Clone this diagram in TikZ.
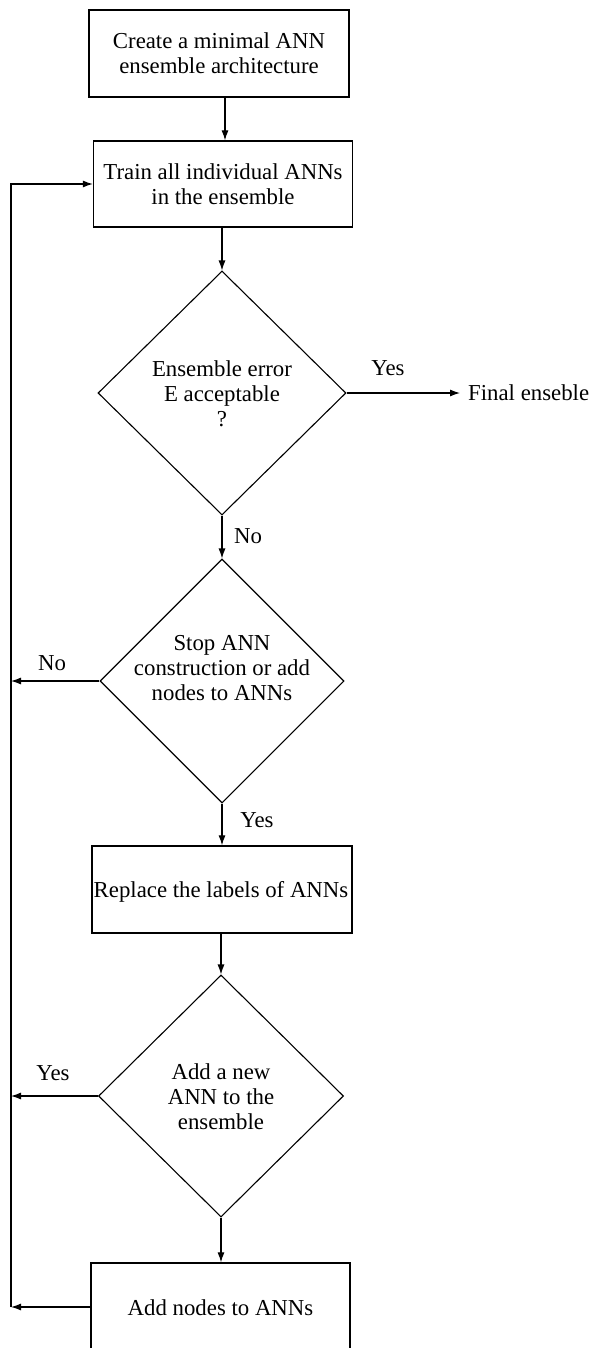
\documentclass[tikz,border=0pt]{standalone}
\usepackage{fontspec}
\setmainfont{Liberation Serif}
\usetikzlibrary{shapes.geometric,arrows.meta,calc}
\begin{document}
\begin{tikzpicture}[x=1pt,y=1pt,
  txt/.style={font=\fontsize{22.8}{25}\selectfont, align=center, inner sep=0pt},
  procbox/.style={draw, line width=1.3pt, rectangle, inner sep=0pt},
  decision/.style={draw, line width=1.1pt, diamond, inner sep=0pt},
  conn/.style={line width=1.1pt, -{Latex[length=10pt,width=7pt]}},
  plain/.style={line width=1.1pt}]
\clip (0,0) rectangle (594,-1348);
\useasboundingbox (0,0) rectangle (594,-1348);
% boxes
\node[procbox, minimum width=260pt, minimum height=87pt] (b1) at (219,-53.5) {};
\node[txt] (t1) at (b1) {Create a minimal ANN\\ensemble architecture};
\node[procbox, minimum width=259pt, minimum height=86pt] (b2) at (223,-184) {};
\node[txt] (t2) at (b2) {Train all individual ANNs\\in the ensemble};
\node[decision, minimum width=248pt, minimum height=244pt] (d1) at (222,-393) {};
\node[txt] (t3) at (222,-394) {Ensemble error\\E acceptable\\?};
\node[decision, minimum width=244pt, minimum height=244pt] (d2) at (222,-681) {};
\node[txt] (t4) at (222,-668) {Stop ANN\\construction or add\\nodes to ANNs};
\node[procbox, minimum width=260pt, minimum height=87pt] (b3) at (222,-889.5) {};
\node[txt] (t5) at (221,-892) {Replace the labels of ANNs};
\node[decision, minimum width=245pt, minimum height=242pt] (d3) at (221,-1096) {};
\node[txt] (t6) at (221,-1097) {Add a new\\ANN to the\\ensemble};
\node[procbox, minimum width=259pt, minimum height=87pt] (b4) at (220.5,-1306.5) {};
\node[txt] (t7) at (220.5,-1308) {Add nodes to ANNs};
% side output
\node[txt, anchor=west, inner xsep=8pt] (fin) at (460,-393) {Final enseble};
% labels
\node[txt] (l1) at (388,-368) {Yes};
\node[txt] (l2) at (248,-536) {No};
\node[txt] (l3) at (52,-663) {No};
\node[txt] (l4) at (257,-820) {Yes};
\node[txt] (l5) at (53,-1073) {Yes};
% loop coordinates
\coordinate (cTop) at (11,-184);
\coordinate (cD2) at (11,-681);
\coordinate (cD3) at (11,-1096);
\coordinate (cB4) at (11,-1307);
% main flow
\draw[conn] (b1.south -| 225,0) -- (b2.north -| 225,0);
\draw[conn] (b2.south -| d1.north) -- (d1.north);
\draw[conn] (d1.east) -- (fin.west |- d1.east);
\draw[conn] (d1.south) -- (d2.north);
\draw[conn] (d2.south) -- (b3.north -| d2.south);
\draw[conn] (b3.south -| d3.north) -- (d3.north);
\draw[conn] (d3.south) -- (b4.north -| d3.south);
% loop back
\draw[conn] (d2.west) -- (cD2);
\draw[conn] (d3.west) -- (cD3);
\draw[conn] (b4.west |- cB4) -- (cB4);
\draw[conn] (cB4) -- (cTop) -- (b2.west);
\end{tikzpicture}
\end{document}
